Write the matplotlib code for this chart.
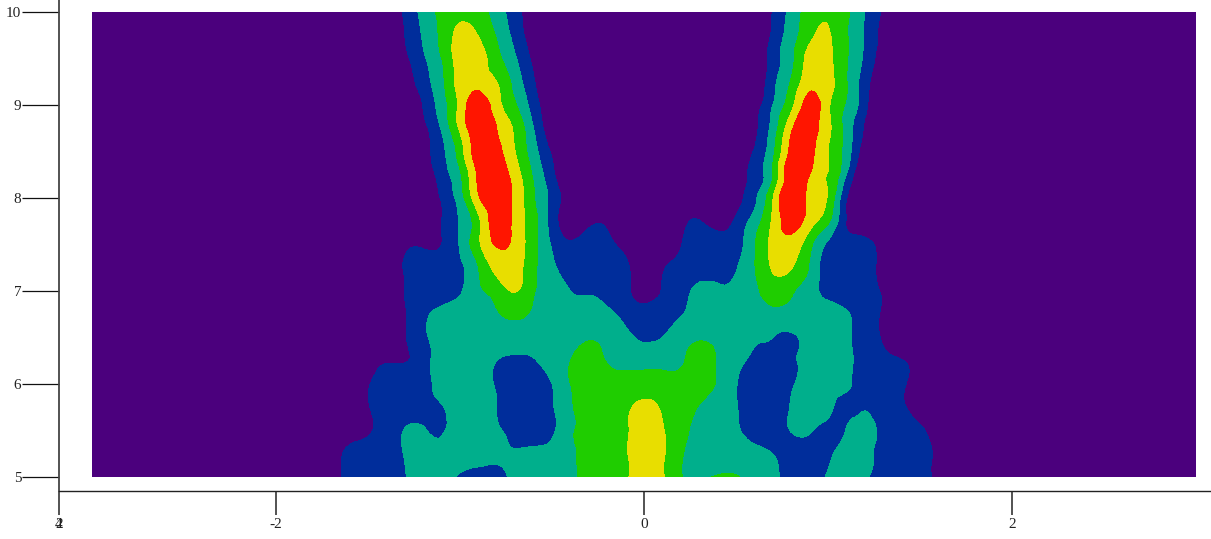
import numpy as np
import matplotlib
matplotlib.use("Agg")
import matplotlib.pyplot as plt
import matplotlib.tri as mtri

# grid the field was read on
x_cols = [-1.8, -1.7, -1.6, -1.5, -1.4, -1.3, -1.2, -1.1, -1.0, -0.9, -0.8, -0.7, -0.6, -0.5, -0.4, -0.3, -0.2, -0.1, 0.0,
          0.1, 0.2, 0.3, 0.4, 0.5, 0.6, 0.7, 0.8, 0.9, 1.0, 1.1, 1.2, 1.3, 1.4, 1.5, 1.6, 1.7, 1.8]
y_rows = [10.0, 9.75, 9.5, 9.25, 9.0, 8.75, 8.5, 8.25, 8.0, 7.75, 7.5, 7.25, 7.0, 6.75, 6.5, 6.25, 6.0, 5.75, 5.5, 5.25, 5.0]

# one row per y, estimated from the band edges in the picture
z_rows = [
    [0, 0, 0, 0, 0, 1.2, 2.3, 3.35, 3.8, 3.5, 2.5, 1.4, .4, 0, 0, 0, 0, 0, 0, 0, 0, 0, 0, 0, 0, 1.05, 2.3, 3.5, 3.8, 3.2, 2.0, .85, 0, 0, 0, 0, 0],
    [0, 0, 0, 0, 0, 1.0, 2.1, 3.25, 4.25, 3.97, 2.9, 1.65, .45, 0, 0, 0, 0, 0, 0, 0, 0, 0, 0, 0, 0, 1.2, 2.5, 3.75, 4.1, 3.1, 1.9, .65, 0, 0, 0, 0, 0],
    [0, 0, 0, 0, 0, .7, 1.85, 3.0, 4.5, 4.5, 3.35, 2.1, .75, 0, 0, 0, 0, 0, 0, 0, 0, 0, 0, 0, 0, 1.45, 2.75, 4.4, 4.3, 3.1, 1.8, .45, 0, 0, 0, 0, 0],
    [0, 0, 0, 0, 0, .35, 1.55, 2.75, 4.45, 4.6, 4.0, 2.6, 1.1, 0, 0, 0, 0, 0, 0, 0, 0, 0, 0, 0, 0, 1.7, 3.1, 4.6, 4.4, 3.05, 1.45, .2, 0, 0, 0, 0, 0],
    [0, 0, 0, 0, 0, 0, 1.05, 2.5, 4.3, 5.6, 4.4, 3.1, 1.5, .3, 0, 0, 0, 0, 0, 0, 0, 0, 0, 0, .45, 2.0, 3.7, 5.5, 4.2, 2.9, 1.3, 0, 0, 0, 0, 0, 0],
    [0, 0, 0, 0, 0, 0, .7, 2.1, 4.2, 5.6, 5.0, 3.8, 2.0, .4, 0, 0, 0, 0, 0, 0, 0, 0, 0, 0, .75, 2.4, 4.8, 5.6, 4.25, 2.65, .85, 0, 0, 0, 0, 0, 0],
    [0, 0, 0, 0, 0, 0, .55, 1.75, 3.5, 5.6, 5.4, 4.0, 2.4, .85, 0, 0, 0, 0, 0, 0, 0, 0, 0, 0, 1.1, 2.75, 5.3, 5.4, 4.0, 2.55, .4, 0, 0, 0, 0, 0, 0],
    [0, 0, 0, 0, 0, 0, .1, 1.5, 2.85, 5.2, 5.7, 4.5, 2.85, 1.25, 0, 0, 0, 0, 0, 0, 0, 0, 0, .15, 1.45, 3.05, 5.8, 5.0, 3.95, 2.0, 0, 0, 0, 0, 0, 0, 0],
    [0, 0, 0, 0, 0, 0, 0, 1.1, 2.5, 4.85, 5.6, 4.7, 3.1, 1.65, .45, 0, 0, 0, 0, 0, 0, 0, 0, .6, 1.8, 3.95, 5.9, 4.75, 3.9, 1.05, 0, 0, 0, 0, 0, 0, 0],
    [0, 0, 0, 0, 0, 0, 0, 1.0, 2.1, 3.75, 5.5, 4.7, 3.35, 1.55, .4, .7, .75, 0, 0, 0, .6, 1.05, .5, 1.2, 2.45, 4.2, 5.4, 4.5, 3.2, .95, 0, 0, 0, 0, 0, 0, 0],
    [0, 0, 0, 0, 0, .75, .85, 1.0, 2.1, 3.8, 5.1, 4.7, 3.3, 1.9, 1.15, 1.5, 1.3, .6, 0, 0, .95, 1.3, 1.5, 1.65, 2.9, 4.3, 4.6, 3.3, 1.85, 1.55, 1.4, .55, 0, 0, 0, 0, 0],
    [0, 0, 0, 0, 0, 1.1, 1.4, 1.6, 1.85, 3.0, 4.35, 4.4, 3.25, 2.15, 1.75, 1.6, 1.45, 1.15, .55, .9, 1.3, 1.5, 1.7, 1.95, 2.95, 4.1, 4.05, 2.9, 1.5, 1.4, 1.25, .7, 0, 0, 0, 0, 0],
    [0, 0, 0, 0, 0, 1.0, 1.25, 1.5, 1.9, 2.8, 3.4, 4.05, 3.1, 2.45, 2.0, 1.95, 1.75, 1.2, .7, 1.05, 1.6, 2.25, 2.15, 2.2, 2.75, 3.5, 3.15, 2.4, 1.7, 1.45, 1.25, .85, 0, 0, 0, 0, 0],
    [0, 0, 0, 0, 0, .9, 1.75, 2.3, 2.5, 2.7, 2.9, 3.25, 2.85, 2.6, 2.45, 2.3, 2.2, 1.7, 1.4, 1.6, 1.95, 2.3, 2.35, 2.4, 2.55, 2.7, 2.7, 2.5, 2.35, 2.1, 1.5, .85, 0, 0, 0, 0, 0],
    [0, 0, 0, 0, 0, .9, 1.8, 2.4, 2.5, 2.5, 2.4, 2.35, 2.4, 2.5, 2.7, 2.9, 2.7, 2.2, 1.9, 2.0, 2.45, 2.9, 2.7, 2.45, 2.15, 2.0, 1.85, 2.35, 2.35, 2.15, 1.5, .85, 0, 0, 0, 0, 0],
    [0, 0, 0, .5, .9, .95, 1.6, 2.4, 2.5, 2.3, 2.0, 1.9, 1.95, 2.4, 3.0, 3.4, 2.95, 2.7, 2.6, 2.65, 2.85, 3.5, 2.9, 2.3, 1.75, 1.6, 1.85, 2.3, 2.4, 2.15, 1.7, 1.3, 1.05, .5, 0, 0, 0],
    [0, 0, .4, .95, 1.3, 1.45, 1.7, 2.3, 2.4, 2.25, 1.95, 1.7, 1.6, 2.0, 3.0, 3.3, 3.25, 3.3, 3.5, 3.4, 3.35, 3.4, 2.9, 2.05, 1.5, 1.4, 1.9, 2.3, 2.4, 2.1, 1.75, 1.4, 1.1, .5, 0, 0, 0],
    [0, 0, .4, .95, 1.3, 1.45, 1.7, 1.95, 2.35, 2.2, 2.0, 1.65, 1.45, 1.9, 2.9, 3.2, 3.4, 3.75, 4.3, 3.85, 3.4, 2.95, 2.5, 2.05, 1.5, 1.45, 2.05, 2.35, 2.2, 1.7, 1.95, 1.4, 1.1, .5, 0, 0, 0],
    [0, .3, .6, .9, 1.4, 2.05, 2.1, 1.9, 2.5, 2.4, 2.1, 1.75, 1.5, 1.8, 2.85, 3.2, 3.55, 3.85, 4.6, 4.1, 3.3, 2.7, 2.4, 2.1, 1.65, 1.45, 2.05, 2.1, 1.7, 2.05, 2.4, 1.7, 1.4, 1.15, .5, 0, 0],
    [0, .6, 1.2, 1.35, 1.5, 2.05, 2.3, 2.3, 2.35, 2.4, 2.15, 2.05, 2.2, 2.4, 2.85, 3.25, 3.55, 3.9, 4.7, 4.2, 3.1, 2.75, 2.6, 2.5, 2.3, 2.0, 1.5, 1.5, 1.8, 2.4, 2.3, 1.7, 1.5, 1.3, .75, 0, 0],
    [0, .6, 1.2, 1.35, 1.5, 1.95, 2.4, 2.3, 1.9, 1.5, 1.7, 2.2, 2.4, 2.6, 2.85, 3.25, 3.55, 3.85, 4.7, 4.15, 3.05, 2.9, 3.05, 3.05, 2.7, 2.2, 1.7, 1.55, 2.1, 2.35, 2.1, 1.7, 1.5, 1.3, .75, 0, 0],
]

levels = [-9, 1, 2, 3, 4, 5, 15]
band_colors = ["#4b007d", "#002d9b", "#00af8c", "#1fcd00", "#e8de00", "#ff1500"]

x_ticks = [-2, 0, 2]
y_ticks = [5, 6, 7, 8, 9, 10]

# pixel positions of the axes in the 1211x539 picture
W, H = 1211, 539
x0_px, x_scale = 644, 184
y5_px, y_scale = 477, 93

plt.rcParams['font.family'] = ['Liberation Serif', 'DejaVu Serif']

fig = plt.figure(figsize=(W / 100, H / 100), dpi=100)
ax = fig.add_axes([0, 0, 1, 1])
ax.set_xlim((0 - x0_px) / x_scale, (W - x0_px) / x_scale)
ax.set_ylim(5 - (H - y5_px) / y_scale, 5 + y5_px / y_scale)

# field runs out to +-3 in x, all in the lowest band past the table
x = np.r_[-3.0, x_cols, 3.0]
y = np.array(y_rows)[::-1]
z = np.pad(np.array(z_rows, dtype=float)[::-1], ((0, 0), (1, 1)))
ax.contourf(x, y, z, levels=[-9, 15], colors=band_colors[:1])

# tri refiner rounds the corners of the bands, like the smooth original
xx, yy = np.meshgrid(x_cols, y)
tri = mtri.Triangulation(xx.ravel(), yy.ravel())
refiner = mtri.UniformTriRefiner(tri)
tri_fine, z_fine = refiner.refine_field(z[:, 1:-1].ravel(), subdiv=3)
ax.tricontourf(tri_fine, z_fine, levels=levels, colors=band_colors)

spine_x = (59 - x0_px) / x_scale
spine_y = 5 - (491 - y5_px) / y_scale

ax.spines['top'].set_visible(False)
ax.spines['right'].set_visible(False)
ax.spines['left'].set_position(('data', spine_x))
ax.spines['bottom'].set_position(('data', spine_y))
ax.spines['left'].set_bounds(spine_y, ax.get_ylim()[1])
ax.spines['bottom'].set_bounds(spine_x, ax.get_xlim()[1])
ax.spines['left'].set_linewidth(1.3)
ax.spines['left'].set_color('#444444')
ax.spines['bottom'].set_linewidth(1.0)
ax.spines['bottom'].set_color('#222222')

ax.set_xticks([spine_x] + x_ticks)
ax.set_xticklabels(['4'] + [str(t) for t in x_ticks], fontsize=11)
ax.set_yticks(y_ticks)
ax.set_yticklabels([str(t) for t in y_ticks], fontsize=11)
ax.tick_params(axis='x', length=17, width=1.3, color='#444444', pad=2.5, labelcolor='#222222')
ax.tick_params(axis='y', length=26.6, width=0.9, color='#111111', pad=0.5, labelcolor='#222222')

# two labels sit on top of each other at the axis corner
ax.annotate('2', xy=(spine_x, spine_y), xytext=(0, -19.5), textcoords='offset points',
            ha='center', va='top', fontsize=11, color='#222222', annotation_clip=False)

fig.savefig('out.png', dpi=100)
